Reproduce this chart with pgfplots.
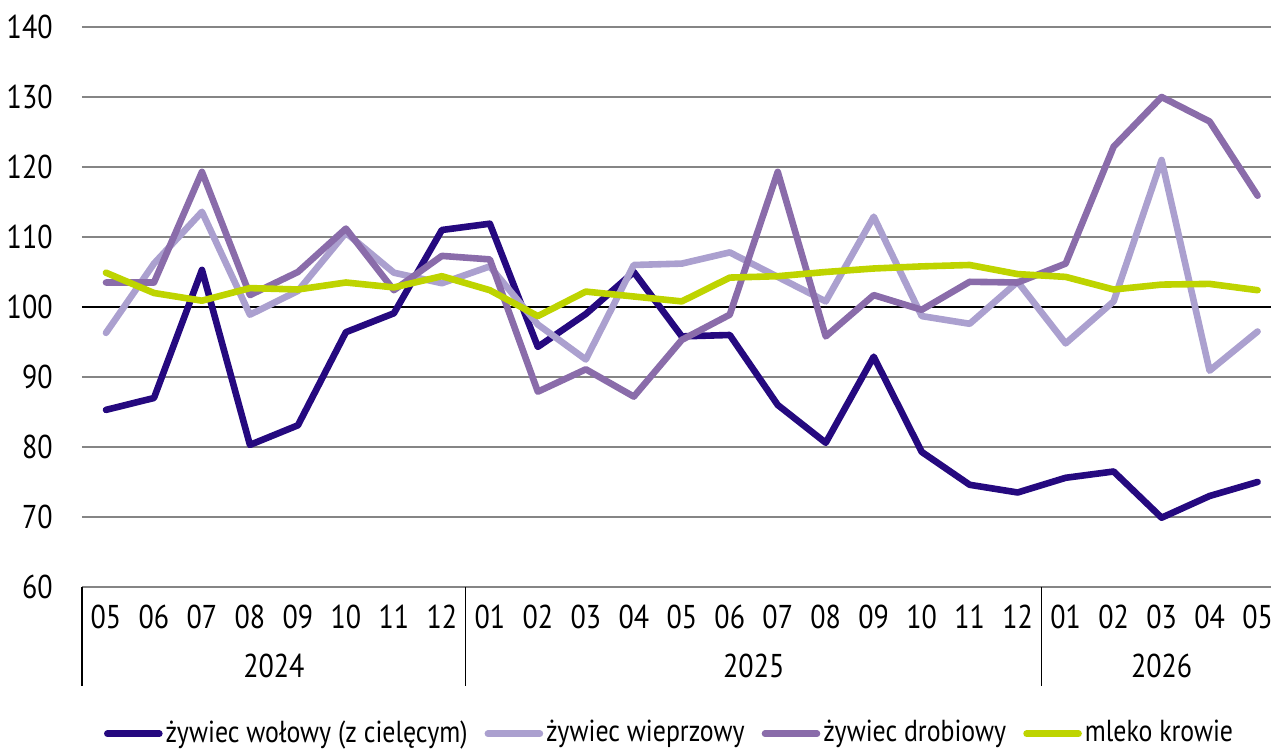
\documentclass[border=0pt]{standalone}
\usepackage{fontspec}
\setmainfont[FakeStretch=0.85]{PT Sans}
\usepackage{pgfplots}
\usepackage{pgfplotstable}
\pgfplotsset{compat=1.18}
\definecolor{cBeef}{HTML}{25097F}
\definecolor{cPork}{HTML}{ABA0CF}
\definecolor{cPoultry}{HTML}{8A6CAA}
\definecolor{cMilk}{HTML}{BED400}
\definecolor{cGrid}{HTML}{858585}

\pgfplotstableread{
x beef pork poultry milk
0 85.3 96.3 103.5 104.9
1 87.0 106.2 103.5 102.0
2 105.3 113.6 119.3 100.9
3 80.3 98.9 101.7 102.7
4 83.1 102.3 105.0 102.5
5 96.4 110.6 111.2 103.5
6 99.1 104.9 102.4 102.8
7 111.0 103.4 107.3 104.4
8 111.9 105.8 106.8 102.4
9 94.3 97.5 87.9 98.7
10 99.0 92.5 91.1 102.2
11 105.0 106.0 87.2 101.5
12 95.8 106.2 95.3 100.8
13 96.0 107.8 98.9 104.2
14 86.0 104.3 119.3 104.4
15 80.6 100.8 95.8 105.0
16 92.9 112.9 101.7 105.5
17 79.3 98.7 99.6 105.8
18 74.6 97.6 103.6 106.0
19 73.5 103.6 103.5 104.7
20 75.6 94.8 106.2 104.3
21 76.5 100.8 122.9 102.5
22 69.9 121.0 130.0 103.2
23 73.0 90.9 126.5 103.3
24 75.0 96.5 115.9 102.4
}\data

\begin{document}
\fontsize{16.5}{19}\selectfont
\begin{tikzpicture}
\begin{axis}[
  name=ax,
  scale only axis,
  width=594.5pt, height=280pt,
  xmin=-0.5, xmax=24.28,
  ymin=60, ymax=140,
  axis line style={draw=none},
  clip=false,
  ytick={60,70,80,90,110,120,130,140},
  extra y ticks={100},
  extra y tick style={grid style={black, line width=0.75pt}},
  ymajorgrids,
  grid style={cGrid, line width=0.75pt},
  major tick length=0pt,
  tick style={draw=none},
  xtick={0,...,24},
  xticklabels={05,06,07,08,09,10,11,12,01,02,03,04,05,06,07,08,09,10,11,12,01,02,03,04,05},
  xticklabel style={anchor=center, inner sep=0pt, yshift=-15pt, font=\fontsize{16.5}{19}\selectfont},
  yticklabel style={anchor=east, inner sep=0pt, xshift=-14.5pt, font=\fontsize{16.5}{19}\selectfont},
  /pgf/number format/assume math mode=true,
  legend columns=-1,
  legend style={at={(0.4946,-0.262)}, anchor=center, draw=none, fill=none,
    font=\fontsize{15.2}{18}\selectfont,
    /tikz/every even column/.append style={column sep=7pt},
    nodes={inner sep=1.5pt}},
  legend image code/.code={\draw[#1, line cap=round] (0pt,0pt) -- (26pt,0pt);},
  every axis plot/.append style={line width=3.3pt, line join=round, line cap=round},
]
\addplot[cBeef] table[x=x,y=beef]{\data};
\addlegendentry{żywiec wołowy (z cielęcym)}
\addplot[cPork] table[x=x,y=pork]{\data};
\addlegendentry{żywiec wieprzowy}
\addplot[cPoultry] table[x=x,y=poultry]{\data};
\addlegendentry{żywiec drobiowy}
\addplot[cMilk] table[x=x,y=milk]{\data};
\addlegendentry{mleko krowie}

\draw[black, line width=0.6pt] (axis cs:-0.5,60) -- ([yshift=-49.5pt]axis cs:-0.5,60);
\draw[black, line width=0.6pt] (axis cs:7.5,60) -- ([yshift=-49.5pt]axis cs:7.5,60);
\draw[black, line width=0.6pt] (axis cs:19.5,60) -- ([yshift=-49.5pt]axis cs:19.5,60);
\node[anchor=center, inner sep=0pt, yshift=-39.5pt] at (axis cs:3.5,60) {2024};
\node[anchor=center, inner sep=0pt, yshift=-39.5pt] at (axis cs:13.5,60) {2025};
\node[anchor=center, inner sep=0pt, yshift=-39.5pt] at (axis cs:22,60) {2026};
\end{axis}
\pgfresetboundingbox
\path ([xshift=-41pt,yshift=-82pt]ax.south west) rectangle ([yshift=13.5pt]ax.north east);
\end{tikzpicture}
\end{document}
